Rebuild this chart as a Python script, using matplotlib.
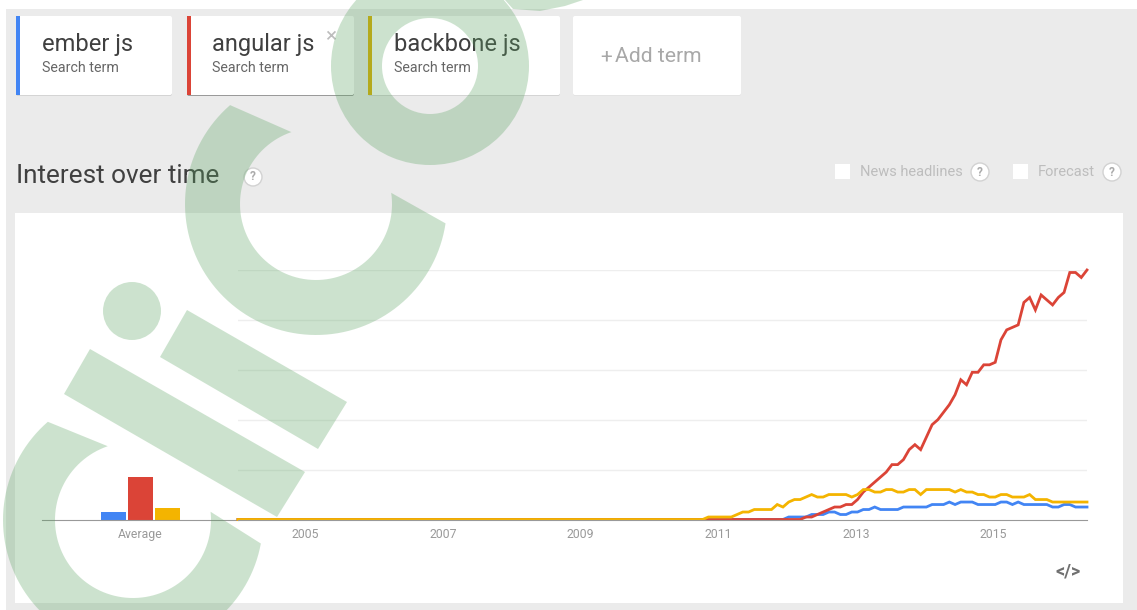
import numpy as np
import matplotlib

matplotlib.use("Agg")
import matplotlib.pyplot as plt
from matplotlib.patches import Circle, FancyBboxPatch, Polygon, Rectangle, Wedge

W, H = 1137, 610

plt.rcParams["font.family"] = ["Roboto", "DejaVu Sans"]

BLUE = "#4285f4"
RED = "#db4437"
YELLOW = "#f4b400"
WATERMARK = "#58a25f"

terms = ["ember js", "angular js", "backbone js"]
term_sub = "Search term"
year_labels = ["2005", "2007", "2009", "2011", "2013", "2015"]
year_months = [11.7, 35.7, 59.7, 83.7, 107.7, 131.7]
grid_values = [20, 40, 60, 80, 100]

avg_blue = 3
avg_red = 17
avg_yellow = 4.5

# monthly values from Jan 2004
ember = [0] * 96 + [
    1, 1, 1, 1, 2, 2, 2, 3, 3, 2, 2, 3, 3, 4, 4, 5, 4, 4, 4, 4,
    5, 5, 5, 5, 5, 6, 6, 6, 7, 6, 7, 7, 7, 6, 6, 6, 6, 7, 7, 6,
    7, 6, 6, 6, 6, 6, 5, 5, 6, 6, 5, 5, 5,
]
angular = [0] * 99 + [
    1, 1, 2, 3, 4, 5, 5, 6, 6, 8, 11, 13, 15, 17, 19, 22, 22, 24, 28, 30,
    28, 33, 38, 40, 43, 46, 50, 56, 54, 59, 59, 62, 62, 63, 72, 76, 77, 78, 87, 89,
    84, 90, 88, 86, 89, 91, 99, 99, 97, 100,
]
backbone = [0] * 82 + [
    1, 1, 1, 1, 1, 2, 3, 3, 4, 4, 4, 4, 6, 5, 7, 8, 8, 9, 10,
    9, 9, 10, 10, 10, 10, 9, 10, 12, 12, 11, 11, 12, 12, 11, 11, 12, 12, 10, 12,
    12, 12, 12, 12, 11, 12, 11, 11, 10, 10, 9, 9, 10, 10, 9, 9, 9, 10, 8, 8,
    8, 7, 7, 7, 7, 7, 7, 7,
]


def px_axes(fig, x0, y0, x1, y1, **kwargs):
    # axes placed by picture pixels, y counted from the top
    return fig.add_axes([x0 / W, 1 - y1 / H, (x1 - x0) / W, (y1 - y0) / H], **kwargs)


def draw_card(ax, x0, x1, color=None, shadow="#d4d4d4"):
    y0, y1 = 16, 95
    ax.add_patch(
        FancyBboxPatch(
            (x0, y0 + 1), x1 - x0, y1 - y0,
            boxstyle="round,pad=0,rounding_size=2", fc=shadow, ec="none",
        )
    )
    ax.add_patch(
        FancyBboxPatch(
            (x0, y0), x1 - x0, y1 - y0,
            boxstyle="round,pad=0,rounding_size=2", fc="white", ec="none",
        )
    )
    if color:
        ax.add_patch(Rectangle((x0, y0), 4, y1 - y0, fc=color, ec="none"))


def help_icon(ax, x, y):
    ax.add_patch(Circle((x, y), 9, fc="white", ec="#d2d2d2", lw=1))
    ax.text(x, y, "?", ha="center", va="center", fontsize=8.5, color="#aaaaaa", weight="bold")


def c_shape(cx, cy, r_in, r_out, out_a, out_b, in_a, in_b):
    # arc band running from the upper end round the left side to the other end
    def arc(p, q, r):
        a0 = np.arctan2(p[1] - cy, p[0] - cx) % (2 * np.pi)
        a1 = np.arctan2(q[1] - cy, q[0] - cx) % (2 * np.pi)
        if a1 > a0:
            a1 -= 2 * np.pi
        t = np.linspace(a0, a1, 90)
        return np.column_stack([cx + r * np.cos(t), cy + r * np.sin(t)])

    return np.vstack([arc(out_a, out_b, r_out), arc(in_a, in_b, r_in)[::-1]])


fig = plt.figure(figsize=(W / 100, H / 100), dpi=100, facecolor="white")

ui = px_axes(fig, 0, 0, W, H, zorder=0)
ui.set_xlim(0, W)
ui.set_ylim(H, 0)
ui.axis("off")

ui.add_patch(Rectangle((6, 9), W - 6, H - 9, fc="#ebebeb", ec="none"))
ui.add_patch(Rectangle((15, 213), 1108, 390, fc="white", ec="none"))

draw_card(ui, 16, 172, BLUE)
draw_card(ui, 187, 354, RED, shadow="#9a9a9a")
draw_card(ui, 368, 560, "#dcae00")
draw_card(ui, 573, 741, shadow="#e4e4e4")

for x, term in zip([42, 212, 394], terms):
    ui.text(x, 45, term, fontsize=17, color="#404040", va="center")
    ui.text(x, 68, term_sub, fontsize=10.3, color="#666666", va="center")
ui.text(325, 37, "×", fontsize=15, color="#bdbdbd", va="center")
ui.text(600, 57, "+", fontsize=15, color="#a8a8a8", va="center")
ui.text(615, 57, "Add term", fontsize=15.2, color="#a8a8a8", va="center")

ui.text(16, 176, "Interest over time", fontsize=18.8, color="#404040", va="center")
help_icon(ui, 253, 177)

ui.add_patch(Rectangle((835, 164), 15, 15, fc="white", ec="none"))
ui.text(860, 172.5, "News headlines", fontsize=10.5, color="#bdbdbd", va="center")
help_icon(ui, 980, 172)
ui.add_patch(Rectangle((1013, 164), 15, 15, fc="white", ec="none"))
ui.text(1038, 172.5, "Forecast", fontsize=10.5, color="#bdbdbd", va="center")
help_icon(ui, 1112, 172)

ui.text(1068, 571, "</>", ha="center", va="center", fontsize=13, color="#707070", weight="bold")

# average bars
ax_avg = px_axes(fig, 42, 270, 238, 519.5, zorder=1)
ax_avg.patch.set_alpha(0)
ax_avg.bar([0, 1, 2], [avg_blue, avg_red, avg_yellow], width=0.95, color=[BLUE, RED, YELLOW])
ax_avg.set_xlim(-2.648, 4.611)
ax_avg.set_ylim(0, 100)
ax_avg.set_yticks([])
ax_avg.set_xticks([1])
ax_avg.set_xticklabels(["Average"], fontsize=8.8, color="#999999")
ax_avg.tick_params(axis="x", length=0, pad=6)
for side in ["top", "left", "right"]:
    ax_avg.spines[side].set_visible(False)
ax_avg.spines["bottom"].set_color("#999999")

# monthly lines
ax = px_axes(fig, 238, 270, 1087, 519.5, zorder=1)
ax.patch.set_alpha(0)
for values, color in [(ember, BLUE), (angular, RED), (backbone, YELLOW)]:
    ax.plot(np.arange(len(values)), values, color=color, lw=2.0, clip_on=False, solid_joinstyle="miter")
ax.set_xlim(0, 148)
ax.set_ylim(0, 100)
ax.set_yticks(grid_values)
ax.set_yticklabels([])
ax.set_xticks(year_months)
ax.set_xticklabels(year_labels, fontsize=8.8, color="#999999")
ax.tick_params(axis="both", length=0)
ax.tick_params(axis="x", pad=6)
ax.grid(True, axis="y", color="#eeeeee", lw=1)
ax.set_axisbelow(True)
for side in ["top", "left", "right"]:
    ax.spines[side].set_visible(False)
ax.spines["bottom"].set_color("#999999")

# watermark over everything
wm = px_axes(fig, 0, 0, W, H, zorder=5)
wm.set_xlim(0, W)
wm.set_ylim(H, 0)
wm.axis("off")
wm.patch.set_alpha(0)
style = dict(fc=WATERMARK, ec="none", alpha=0.3)

wm.add_patch(Polygon(c_shape(133, 520, 78, 130, (48, 422), (258, 543), (107, 444), (208, 512)), **style))
wm.add_patch(Polygon(c_shape(316, 204, 76, 131, (230, 105), (443, 223), (290, 128), (390, 193)), **style))
wm.add_patch(Wedge((430, 66), 99, 0, 360, width=51, **style))
wm.add_patch(Polygon([(505, 0), (583, 0), (565, 6), (540, 11), (513, 9)], **style))
wm.add_patch(Polygon([(90, 349), (305, 472), (277, 517), (64, 394)], **style))
wm.add_patch(Polygon([(187, 310), (347, 402), (318, 449), (160, 357)], **style))
wm.add_patch(Circle((132, 311), 29, **style))

fig.savefig("out.png", dpi=100)
